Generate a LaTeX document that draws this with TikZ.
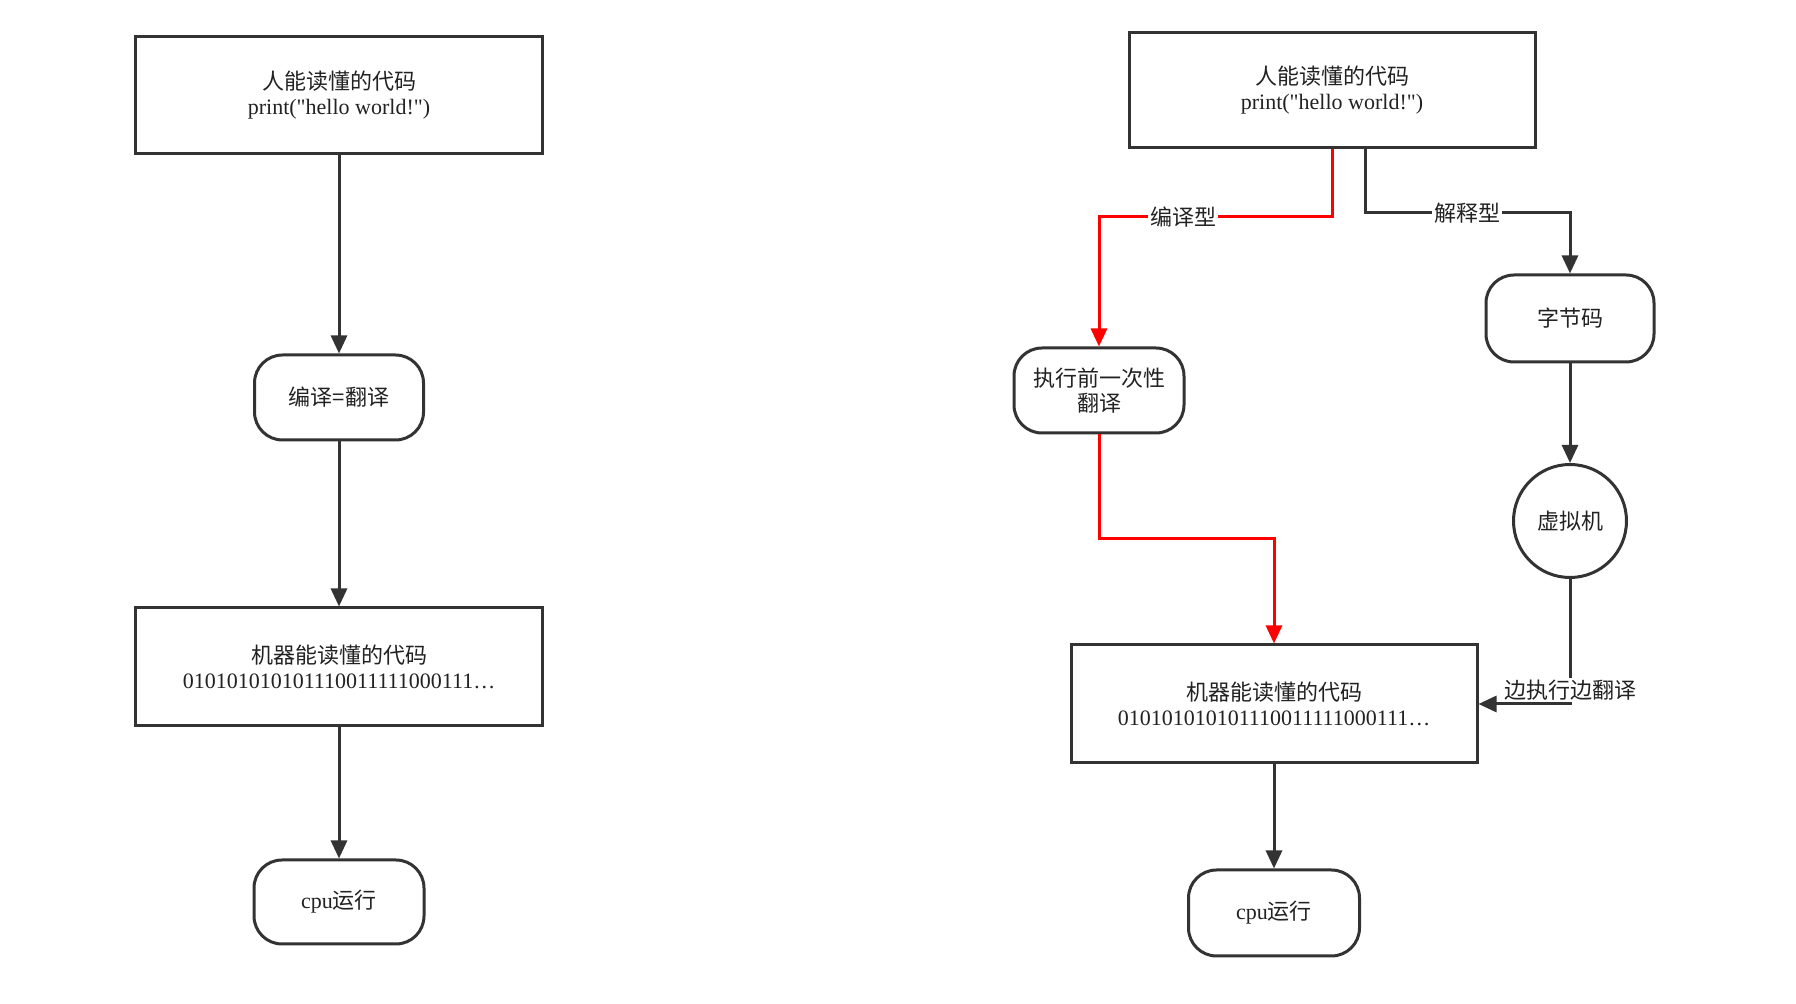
\documentclass[tikz,border=0pt]{standalone}
\usepackage{fontspec}
\setmainfont{Liberation Serif}
\newfontfamily\cjk{Noto Sans CJK SC}
\usetikzlibrary{arrows.meta}
\definecolor{ln}{HTML}{333333}
\definecolor{txt}{HTML}{222222}
\tikzset{
  sz/.style 2 args={minimum width=#1*0.5pt, minimum height=#2*0.5pt},
  box/.style={draw=ln, line width=1.5pt, fill=white, align=center, text=txt,
    font=\fontsize{11}{12.5}\selectfont, inner sep=0pt},
  rbox/.style={box, rounded corners=14pt},
  circ/.style={box, circle},
  conn/.style={draw=ln, line width=1.5pt, -{Triangle[length=9pt,width=8pt]}},
  rconn/.style={conn, draw=red},
  lbl/.style={fill=white, text=txt, font=\fontsize{11}{12.5}\selectfont, inner sep=1pt},
}
\newcommand{\hw}{print(\textquotedbl hello world!\textquotedbl)}
\begin{document}
\begin{tikzpicture}[x=0.5pt, y=-0.5pt]
\useasboundingbox[fill=white] (0,0) rectangle (1796,1004);

% ---------- left flow ----------
\node[box, sz={407}{117}] (L1) at (339,95.5) {{\cjk 人能读懂的代码}\\\hw};
\node[rbox, sz={169}{85}] (L2) at (339,397.5) {{\cjk 编译=翻译}};
\node[box, sz={407}{118}] (L3) at (339,667) {{\cjk 机器能读懂的代码}\\010101010101110011111000111\ldots};
\node[rbox, sz={170}{84}] (L4) at (339,902) {cpu{\cjk 运行}};

\draw[conn] (L1) -- (L2);
\draw[conn] (L2) -- (L3);
\draw[conn] (L3) -- (L4);

% ---------- right flow ----------
\node[box, sz={406}{115}] (R1) at (1332,90.5) {{\cjk 人能读懂的代码}\\\hw};
\node[rbox, sz={170}{85}] (Rc) at (1099,390.5) {{\cjk 执行前一次性}\\{\cjk 翻译}};
\node[rbox, sz={168}{87}] (Rb) at (1570,318.5) {{\cjk 字节码}};
\node[circ, minimum size=113*0.5pt] (Rv) at (1570,521) {{\cjk 虚拟机}};
\node[box, sz={406}{118}] (R2) at (1274,704) {{\cjk 机器能读懂的代码}\\010101010101110011111000111\ldots};
\node[rbox, sz={171}{86}] (R3) at (1274,913) {cpu{\cjk 运行}};

\coordinate (ra) at (1332,217);
\coordinate (rb) at (1099,217);
\coordinate (rc) at (1099,539);
\coordinate (rd) at (1274,539);
\coordinate (ba) at (1365,213);
\coordinate (bb) at (1570,213);
\coordinate (bs) at (1365,148);

\draw[rconn] (R1.south) -- (ra) -- (rb) -- (Rc.north);
\draw[rconn] (Rc.south) -- (rc) -- (rd) -- (R2.north);
\draw[conn] (bs) -- (ba) -- (bb) -- (Rb.north);
\draw[conn] (Rb) -- (Rv);
\draw[conn] (Rv.south) |- (R2.east);
\draw[conn] (R2) -- (R3);

\node[lbl] (t1) at (1183,217) {{\cjk 编译型}};
\node[lbl] (t2) at (1467,213) {{\cjk 解释型}};
\node[lbl] (t3) at (1570,690) {{\cjk 边执行边翻译}};
\end{tikzpicture}
\end{document}
